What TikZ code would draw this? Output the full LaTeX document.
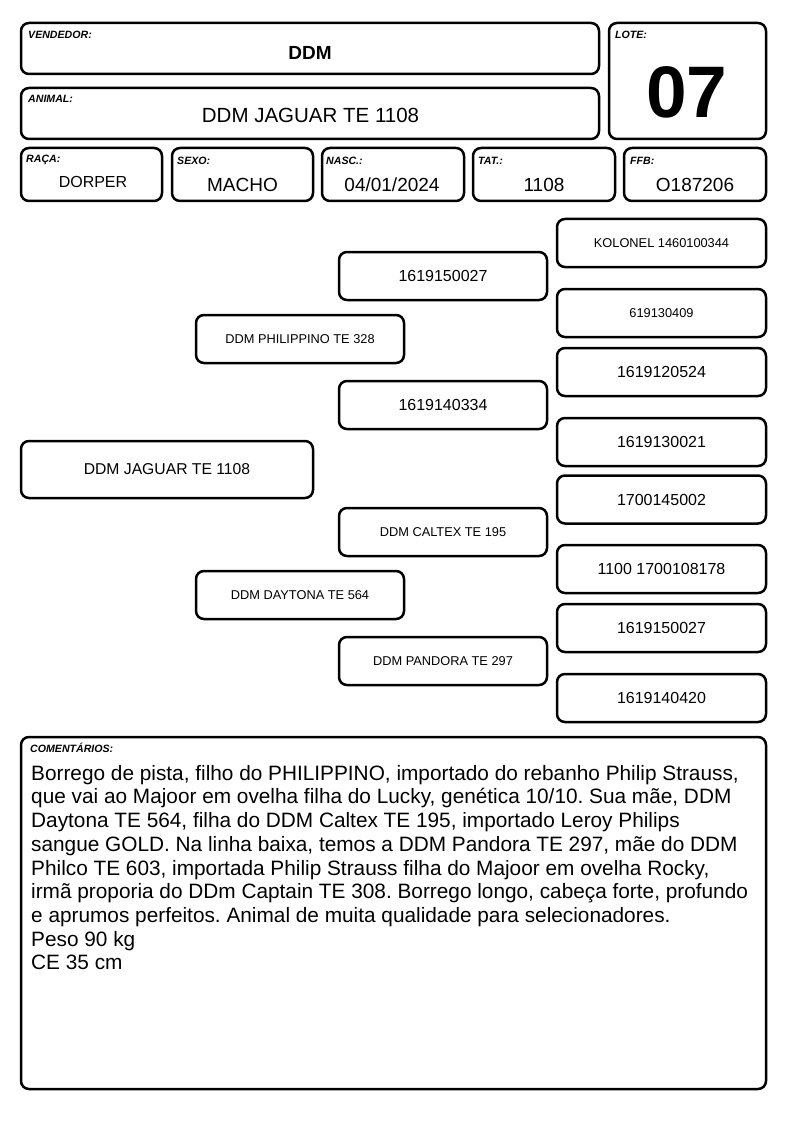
\documentclass[tikz,border=0pt]{standalone}
\usepackage{fontspec}
\setmainfont{Liberation Sans}
\frenchspacing
\begin{document}
\begin{tikzpicture}[x=1pt,y=-1pt,
  box/.style={draw, line width=2.5pt, rounded corners=8pt, inner sep=0pt},
  lbl/.style={anchor=base west, inner sep=0pt, font=\fontsize{10.6}{12}\selectfont\bfseries\itshape},
  val/.style={anchor=base, inner sep=0pt, font=\fontsize{19}{22}\selectfont},
  ped/.style={box, minimum width=208pt, minimum height=48pt, font=\fontsize{12.8}{15}\selectfont},
  pedl/.style={box, minimum width=208pt, minimum height=48pt, font=\fontsize{16}{19}\selectfont},
  rgt/.style={box, minimum width=209pt, minimum height=48pt, font=\fontsize{12.8}{15}\selectfont},
  rgtl/.style={box, minimum width=209pt, minimum height=48pt, font=\fontsize{16}{19}\selectfont}]
\useasboundingbox[fill=white] (0,0) rectangle (794,1123);
% header boxes
\node[box, minimum width=578pt, minimum height=51pt] (vend) at (310,48.5) {};
\node[box, minimum width=578pt, minimum height=51pt] (anim) at (310,113.5) {};
\node[box, minimum width=157pt, minimum height=116pt] (lote) at (687.5,81) {};
\node[box, minimum width=141pt, minimum height=53pt] (raca) at (91.5,174.5) {};
\node[box, minimum width=141pt, minimum height=53pt] (sexo) at (242.5,174.5) {};
\node[box, minimum width=142pt, minimum height=53pt] (nasc) at (393,174.5) {};
\node[box, minimum width=142pt, minimum height=53pt] (tat) at (544,174.5) {};
\node[box, minimum width=142pt, minimum height=53pt] (ffb) at (695,174.5) {};
% labels
\node[lbl] (lv) at (28,39) {VENDEDOR:};
\node[lbl] (la) at (28,103) {ANIMAL:};
\node[lbl] (ll) at (615,39) {LOTE:};
\node[lbl] (lr) at (26,163) {RAÇA:};
\node[lbl] (ls) at (177,165) {SEXO:};
\node[lbl] (ln) at (326,165) {NASC.:};
\node[lbl] (lt) at (478,165) {TAT.:};
\node[lbl] (lf) at (630,165) {FFB:};
% values
\node[val, font=\fontsize{19}{22}\selectfont\bfseries] (vv) at (310,60) {DDM};
\node[val, font=\fontsize{20.5}{24}\selectfont] (va) at (310.5,123) {DDM JAGUAR TE 1108};
\node[val, font=\fontsize{73}{80}\selectfont\bfseries] (vl) at (687,118) {07};
\node[val, font=\fontsize{16}{19}\selectfont] (vr) at (93,188) {DORPER};
\node[val] (vs) at (242.5,192) {MACHO};
\node[val] (vn) at (392,192) {04/01/2024};
\node[val] (vt) at (544,192) {1108};
\node[val] (vf) at (695,192) {O187206};
% pedigree
\node[box, minimum width=292pt, minimum height=57pt, font=\fontsize{15.7}{18}\selectfont] (jag) at (167,469.5) {DDM JAGUAR TE 1108};
\node[ped] (phil) at (300,339) {DDM PHILIPPINO TE 328};
\node[ped] (day) at (300,595) {DDM DAYTONA TE 564};
\node[pedl] (pp) at (443,276) {1619150027};
\node[pedl] (pm) at (443,405) {1619140334};
\node[ped] (dp) at (443,532) {DDM CALTEX TE 195};
\node[ped] (dm) at (443,661) {DDM PANDORA TE 297};
\node[rgt] (r1) at (661.5,243) {KOLONEL 1460100344};
\node[rgt] (r2) at (661.5,313) {619130409};
\node[rgtl] (r3) at (661.5,372) {1619120524};
\node[rgtl] (r4) at (661.5,442) {1619130021};
\node[rgtl] (r5) at (661.5,499.5) {1700145002};
\node[rgtl] (r6) at (661.5,569) {1100 1700108178};
\node[rgtl] (r7) at (661.5,628) {1619150027};
\node[rgtl] (r8) at (661.5,698) {1619140420};
% comments
\node[box, minimum width=745pt, minimum height=352pt] (com) at (393.5,913) {};
\node[lbl] (lc) at (30,752) {COMENTÁRIOS:};
\node[anchor=north west, inner sep=0pt, align=left, font=\fontsize{20.8}{23.7}\selectfont] (ct) at (31,765) {Borrego de pista, filho do PHILIPPINO, importado do rebanho Philip Strauss,\\
que vai ao Majoor em ovelha filha do Lucky, genética 10/10. Sua mãe, DDM\\
Daytona TE 564, filha do DDM Caltex TE 195, importado Leroy Philips\\
sangue GOLD. Na linha baixa, temos a DDM Pandora TE 297, mãe do DDM\\
Philco TE 603, importada Philip Strauss filha do Majoor em ovelha Rocky,\\
irmã proporia do DDm Captain TE 308. Borrego longo, cabeça forte, profundo\\
e aprumos perfeitos. Animal de muita qualidade para selecionadores.\\
Peso 90 kg\\
CE 35 cm};
\end{tikzpicture}
\end{document}
